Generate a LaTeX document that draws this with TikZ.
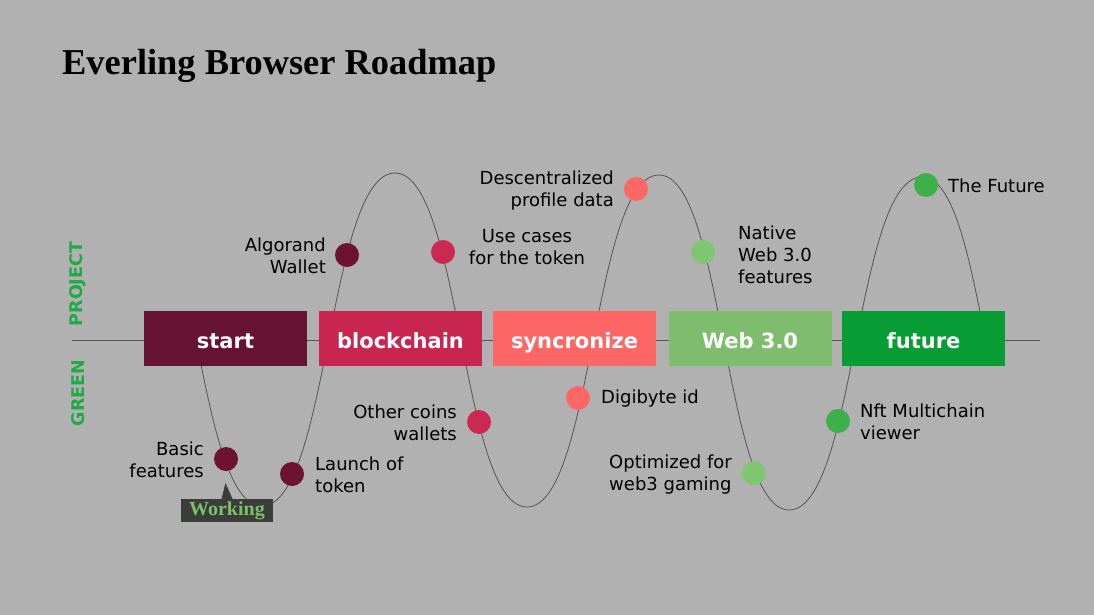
\documentclass[tikz,border=0pt]{standalone}
\usepackage{fontspec}
\setmainfont{DejaVu Sans}
\newfontfamily\titlefont{Liberation Serif}
\definecolor{bg}{HTML}{B2B1B1}
\definecolor{cstart}{HTML}{651330}
\definecolor{cblock}{HTML}{C82550}
\definecolor{csync}{HTML}{FF6666}
\definecolor{cweb}{HTML}{7EBD6E}
\definecolor{cfut}{HTML}{089C35}
\definecolor{dstart}{HTML}{6E1232}
\definecolor{dblock}{HTML}{CC2952}
\definecolor{dweb}{HTML}{80C670}
\definecolor{dfut}{HTML}{3DB04A}
\definecolor{cgreen}{HTML}{1FAA46}
\definecolor{wbox}{HTML}{3A3D3A}
\definecolor{wtext}{HTML}{7DBF6B}
\definecolor{wave}{HTML}{555555}
\begin{document}
\begin{tikzpicture}[x=1pt,y=-1pt,
  phase/.style={draw=none,minimum width=163pt,minimum height=55pt,inner sep=0pt,
    text height=22pt,text depth=3pt,
    text=white,font=\fontsize{21}{25}\selectfont\bfseries},
  dot/.style={circle,minimum size=24pt,inner sep=0pt,draw=none},
  lbl/.style={inner sep=0pt,font=\fontsize{18}{22}\selectfont,text=black},
  side/.style={inner sep=0pt,rotate=90,text=cgreen,font=\fontsize{17.5}{20}\selectfont\bfseries}]
\fill[bg] (0,0) rectangle (1094,615);
\useasboundingbox (0,0) rectangle (1094,615);

% title
\node[anchor=base west,inner sep=0pt,font=\titlefont\fontsize{36.4}{40}\selectfont\bfseries] (title) at (62,75) {Everling Browser Roadmap};

% baseline
\coordinate (bl) at (72,340);
\coordinate (br) at (1040,340);
\draw[wave,line width=0.8pt] (bl) -- (br);

% wave
\coordinate (w0) at (196,339.5);
\coordinate (t1) at (262,506);
\coordinate (p1) at (395,173);
\coordinate (t2) at (527,507);
\coordinate (p2) at (659,175);
\coordinate (t3) at (789,510);
\coordinate (p3) at (922,177);
\coordinate (w9) at (986,343);
\draw[wave,line width=0.8pt]
  (w0) .. controls +(16.5,83.25) and +(-33,0) .. (t1)
  .. controls +(66.5,0) and +(-66.5,0) .. (p1)
  .. controls +(66,0) and +(-66,0) .. (t2)
  .. controls +(66,0) and +(-66,0) .. (p2)
  .. controls +(65,0) and +(-65,0) .. (t3)
  .. controls +(66.5,0) and +(-66.5,0) .. (p3)
  .. controls +(32,0) and +(-16,-83) .. (w9);

% phase boxes
\node[phase,fill=cstart] (start) at (225.5,338.5) {start};
\node[phase,fill=cblock] (blockchain) at (400.5,338.5) {blockchain};
\node[phase,fill=csync] (sync) at (574.5,338.5) {syncronize};
\node[phase,fill=cweb] (web) at (750,338.5) {Web 3.0};
\node[phase,fill=cfut] (future) at (923.5,338.5) {future};

% side labels
\node[side] (project) at (78,284) {PROJECT};
\node[side] (green) at (78,393) {GREEN};

% dots
\node[dot,fill=dstart] (d1) at (226,459) {};
\node[dot,fill=dstart] (d2) at (292,474) {};
\node[dot,fill=dstart] (d3) at (347,255) {};
\node[dot,fill=dblock] (d4) at (443,252) {};
\node[dot,fill=dblock] (d5) at (479,422) {};
\node[dot,fill=csync] (d6) at (636,189) {};
\node[dot,fill=csync] (d7) at (578,398) {};
\node[dot,fill=dweb] (d8) at (703,252) {};
\node[dot,fill=dweb] (d9) at (754,473) {};
\node[dot,fill=dfut] (d10) at (838,421) {};
\node[dot,fill=dfut] (d11) at (926,185) {};

% labels
\node[lbl,anchor=east,align=right] (l1) at (204,460) {Basic\\features};
\node[lbl,anchor=west,align=left] (l2) at (315,475) {Launch of\\token};
\node[lbl,anchor=east,align=right] (l3) at (326,256) {Algorand\\Wallet};
\node[lbl,align=center] (l4) at (527,247) {Use cases\\for the token};
\node[lbl,anchor=east,align=right] (l5) at (457,423) {Other coins\\wallets};
\node[lbl,anchor=east,align=right] (l6) at (614,191) {Descentralized\\profile data};
\node[lbl,anchor=west] (l7) at (601,399) {Digibyte id};
\node[lbl,anchor=west,align=left] (l8) at (738,255) {Native\\Web 3.0\\features};
\node[lbl,anchor=west,align=left] (l9) at (609,475) {Optimized for\\web3 gaming};
\node[lbl,anchor=west,align=left] (l10) at (860,422) {Nft Multichain\\viewer};
\node[lbl,anchor=west] (l11) at (948,186) {The Future};

% working marker
\node[fill=wbox,minimum width=92pt,minimum height=23pt,inner sep=0pt,text=wtext,
  font=\titlefont\fontsize{20}{22}\selectfont\bfseries] (work) at (227,510.5) {Working};
\coordinate (wtip) at (225.5,483);
\fill[wbox] (wtip) -- ([xshift=-5.5pt]work.north) -- ([xshift=5.5pt]work.north) -- cycle;
\end{tikzpicture}
\end{document}
